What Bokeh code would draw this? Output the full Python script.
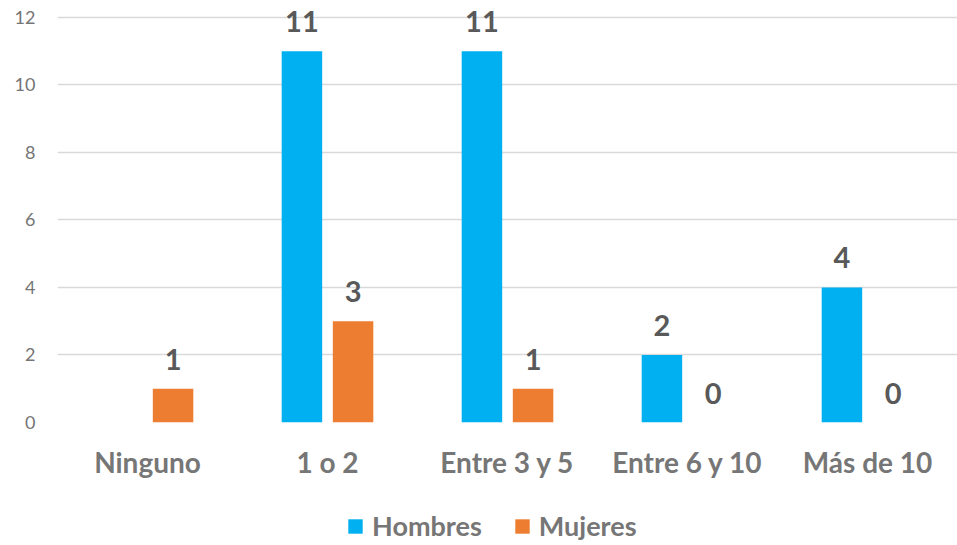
from bokeh.plotting import figure
from bokeh.layouts import column
from bokeh.models import ColumnDataSource, LabelSet, Legend, LegendItem, FixedTicker, Range1d
from bokeh.core.properties import value
from bokeh.transform import dodge
from bokeh.embed import file_html
from bokeh.resources import INLINE

categories = ["Ninguno", "1 o 2", "Entre 3 y 5", "Entre 6 y 10", "Más de 10"]
hombres = [float("nan"), 11, 11, 2, 4]
mujeres = [1, 3, 1, 0, 0]
y_ticks = [0, 2, 4, 6, 8, 10, 12]
series_names = ["Hombres", "Mujeres"]

FONT = "Lato"
C_H = "#00B0F0"
C_M = "#ED7D31"

src = ColumnDataSource(dict(
    cat=categories,
    h=hombres,
    m=mujeres,
    h_lbl=["" if v != v else str(int(v)) for v in hombres],
    m_lbl=[str(v) for v in mujeres],
))

off = 0.142
w = 0.225

# ---- main chart ----
p = figure(x_range=categories, y_range=(0, 12.5), width=957, height=505,
           output_backend="svg", toolbar_location=None,
           min_border_left=57, min_border_right=0, min_border_top=0,
           min_border_bottom=83)

p.vbar(x=dodge("cat", -off, range=p.x_range), top="h", width=w, source=src,
       fill_color=C_H, line_color=None)
p.vbar(x=dodge("cat", off, range=p.x_range), top="m", width=w, source=src,
       fill_color=C_M, line_color=None)

for col, lbl, o in (("h", "h_lbl", -off), ("m", "m_lbl", off)):
    ls = LabelSet(x=dodge("cat", o, range=p.x_range), y=col, text=lbl, source=src,
                  text_align="center", text_baseline="alphabetic", y_offset=19,
                  text_font=value(FONT), text_font_style="bold", text_font_size="29px",
                  text_color="#595959")
    p.add_layout(ls)

p.outline_line_color = None
p.xgrid.grid_line_color = None
p.ygrid.grid_line_color = "#D9D9D9"
p.ygrid.grid_line_width = 1.5
p.yaxis.ticker = FixedTicker(ticks=y_ticks)

for ax in (p.xaxis, p.yaxis):
    ax.axis_line_color = None
    ax.major_tick_line_color = None
    ax.minor_tick_line_color = None
    ax.major_tick_out = 0
    ax.major_tick_in = 0
    ax.major_label_text_font = FONT

p.yaxis.major_label_text_font_size = "18px"
p.yaxis.major_label_text_color = "#757575"
p.yaxis.major_label_standoff = 22

p.xaxis.major_label_text_font_size = "28px"
p.xaxis.major_label_text_font_style = "bold"
p.xaxis.major_label_text_color = "#767676"
p.xaxis.major_label_standoff = 22

# ---- legend strip (same series, bars kept outside its visible range) ----
lg = figure(x_range=p.x_range, y_range=Range1d(100, 101), width=957, height=40,
            output_backend="svg", toolbar_location=None,
            x_axis_location=None, y_axis_location=None,
            min_border_left=0, min_border_right=0, min_border_top=0, min_border_bottom=0)
lg.outline_line_color = None
lg.xgrid.grid_line_color = None
lg.ygrid.grid_line_color = None
lh = lg.vbar(x=dodge("cat", -off, range=lg.x_range), top="h", width=w, source=src,
             fill_color=C_H, line_color=None)
lm = lg.vbar(x=dodge("cat", off, range=lg.x_range), top="m", width=w, source=src,
             fill_color=C_M, line_color=None)

legend = Legend(items=[LegendItem(label=series_names[0], renderers=[lh]),
                       LegendItem(label=series_names[1], renderers=[lm])],
                orientation="horizontal", location=(289, 3),
                label_text_font=FONT, label_text_font_style="bold",
                label_text_font_size="27px", label_text_color="#767676",
                glyph_width=18, glyph_height=18, label_standoff=8, spacing=31,
                padding=0, margin=0,
                border_line_color=None, background_fill_alpha=0)
lg.add_layout(legend)

layout = column(p, lg, spacing=0)
open("out.html", "w").write(file_html(layout, INLINE))
